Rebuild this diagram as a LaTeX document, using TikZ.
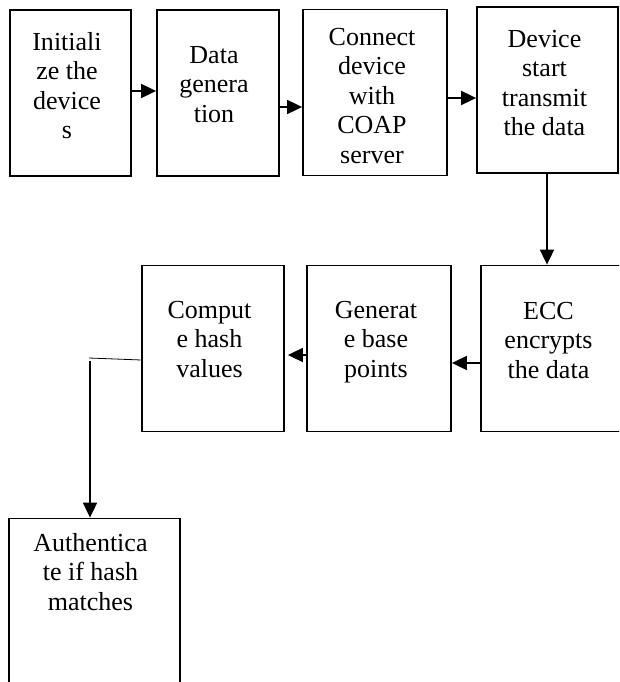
\documentclass[tikz,border=0pt]{standalone}
\usepackage{fontspec}
\setmainfont{Liberation Serif}
\usetikzlibrary{arrows.meta}
\tikzset{
  box/.style={draw, line width=1.8pt, minimum width=#1, inner sep=0pt, minimum height=166pt},
  lbl/.style={anchor=north, inner sep=0pt, align=center, font=\fontsize{26}{29.5}\selectfont},
  arr/.style={line width=1.8pt, -{Triangle[length=15pt,width=14pt]}},
  thinline/.style={line width=0.8pt}
}
\begin{document}
\begin{tikzpicture}[x=1pt,y=-1pt]
\clip (0,0) rectangle (619,682);
% boxes
\node[box=121pt] (b1) at (70.5,93) {};
\node[box=122pt] (b2) at (218,93) {};
\node[box=144pt] (b3) at (375,92.5) {};
\node[box=141pt] (b4) at (547.5,90) {};
\node[box=144pt] (ecc) at (553,348.5) {};
\node[box=144pt] (gen) at (379,348.5) {};
\node[box=142pt] (cmp) at (213,348.5) {};
\node[box=171pt] (auth) at (94.5,601.5) {};
% texts
\node[lbl] (t1) at (67,32) {Initiali\\ze the\\device\\s};
\node[lbl] (t2) at (214,46) {Data\\genera\\tion};
\node[lbl] (t3) at (372,28) {Connect\\device\\with\\COAP\\server};
\node[lbl] (t4) at (544.5,30) {Device\\start\\transmit\\the data};
\node[lbl] (t5) at (548.5,302) {ECC\\encrypts\\the data};
\node[lbl] (t6) at (376,301) {Generat\\e base\\points};
\node[lbl] (t7) at (209.5,301) {Comput\\e hash\\values};
\node[lbl] (t8) at (90.5,533) {Authentica\\te if hash\\matches};
% connectors
\draw[arr] ([yshift=2pt]b1.east) coordinate (a1) -- (a1 -| b2.west);
\draw[arr] ([yshift=-14pt]b2.east) coordinate (a2) -- (a2 -| b3.west);
\draw[arr] ([yshift=-5.5pt]b3.east) coordinate (a3) -- (a3 -| b4.west);
\draw[arr] ([xshift=-0.5pt]b4.south) coordinate (a4) -- (a4 |- ecc.north);
\draw[arr] ([yshift=-14.5pt]ecc.west) coordinate (a5) -- (a5 -| gen.east);
\draw[arr, shorten >=3pt] ([yshift=-6.5pt]gen.west) coordinate (a6) -- (a6 -| cmp.east);
\coordinate (k) at (89,358);
\draw[thinline] ([yshift=-11.5pt]cmp.west) -- (k);
\draw[arr] ([shift={(1pt,-3pt)}]k) coordinate (k2) -- (k2 |- auth.north);
\end{tikzpicture}
\end{document}
